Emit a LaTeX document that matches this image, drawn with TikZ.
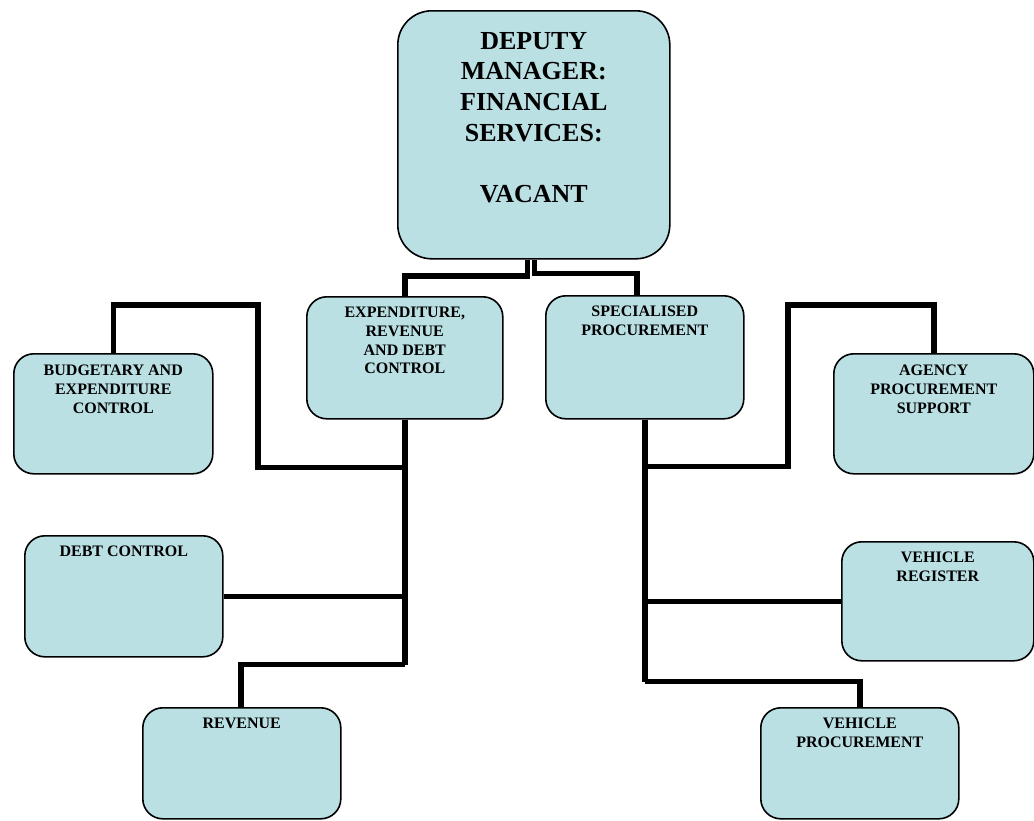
\documentclass[tikz,border=0pt]{standalone}
\usepackage{fontspec}
\setmainfont{Liberation Serif}
\usetikzlibrary{calc,backgrounds}
\definecolor{boxfill}{RGB}{186,224,228}
\begin{document}
\begin{tikzpicture}[x=1pt,y=-1pt,
  unit/.style={draw=black, line width=1.6pt, fill=boxfill, rounded corners=20pt,
               anchor=north west, inner sep=0pt},
  heading/.style={anchor=north, inner sep=0pt, align=center,
               font=\bfseries\fontsize{16}{18.7}\selectfont},
  bigheading/.style={anchor=north, inner sep=0pt, align=center,
               font=\bfseries\fontsize{26}{30.6}\selectfont},
  conn/.style={line width=5.5pt, draw=black}]
\useasboundingbox (0,0) rectangle (1034,820);

% boxes
\node[unit, rounded corners=34pt, minimum width=272pt, minimum height=248pt] (top) at (397,10) {};
\node[unit, minimum width=196pt, minimum height=122pt] (exp) at (306,296) {};
\node[unit, minimum width=198pt, minimum height=123pt] (spec) at (545,295) {};
\node[unit, minimum width=199pt, minimum height=120pt] (bud) at (13,353) {};
\node[unit, minimum width=200pt, minimum height=120pt] (agency) at (833,353) {};
\node[unit, minimum width=198pt, minimum height=121pt] (debt) at (24,535) {};
\node[unit, minimum width=198pt, minimum height=111pt] (rev) at (142,707) {};
\node[unit, minimum width=192pt, minimum height=119pt] (vreg) at (841,541) {};
\node[unit, minimum width=198pt, minimum height=111pt] (vproc) at (760,707) {};

% labels
\node[bigheading] (top-t) at ($(top.north)+(0,22)$) {DEPUTY\\MANAGER:\\FINANCIAL\\SERVICES:\\[30.6pt]VACANT};
\node[heading] (exp-t) at ($(exp.north)+(0,11)$) {EXPENDITURE,\\REVENUE\\AND DEBT\\CONTROL};
\node[heading] (spec-t) at ($(spec.north)+(0,11)$) {SPECIALISED\\PROCUREMENT};
\node[heading] (bud-t) at ($(bud.north)+(0,12)$) {BUDGETARY AND\\EXPENDITURE\\CONTROL};
\node[heading] (agency-t) at ($(agency.north)+(0,12)$) {AGENCY\\PROCUREMENT\\SUPPORT};
\node[heading] (debt-t) at ($(debt.north)+(0,11)$) {DEBT CONTROL};
\node[heading] (rev-t) at ($(rev.north)+(0,11)$) {REVENUE};
\node[heading] (vreg-t) at ($(vreg.north)+(0,11)$) {VEHICLE\\REGISTER};
\node[heading] (vproc-t) at ($(vproc.north)+(0,11)$) {VEHICLE\\PROCUREMENT};

% junctions on the two trunks
\coordinate (lb) at ($(exp.south)+(0,48)$);
\coordinate (ld) at (exp.south |- debt.east);
\coordinate (lr) at ($(exp.south)+(0,245)$);
\coordinate (ra) at ($(spec.south)+(0,47)$);
\coordinate (rv) at (spec.south |- vreg.west);
\coordinate (rp) at ($(spec.south)+(0,262)$);

\begin{scope}[on background layer]
  % top box to the two sections
  \draw[conn] ([xshift=-6.5pt]top.south) |- ([yshift=20pt]exp.north) -- (exp.north);
  \draw[conn] ([xshift=0.5pt]top.south) |- ([xshift=-8pt,yshift=21.5pt]spec.north) -- ([xshift=-8pt]spec.north);
  % left branch
  \draw[conn] (exp.south) -- (lr);
  \draw[conn] (bud.north) |- (258,305) |- (lb);
  \draw[conn] (debt.east) -- (ld);
  \draw[conn] (lr) -| ([xshift=-1pt]rev.north);
  % right branch
  \draw[conn] (spec.south) -- (rp);
  \draw[conn] (ra) -| (788,305) -| (agency.north);
  \draw[conn] (rv) -- (vreg.west);
  \draw[conn] (rp) -| (vproc.north);
\end{scope}
\end{tikzpicture}
\end{document}
